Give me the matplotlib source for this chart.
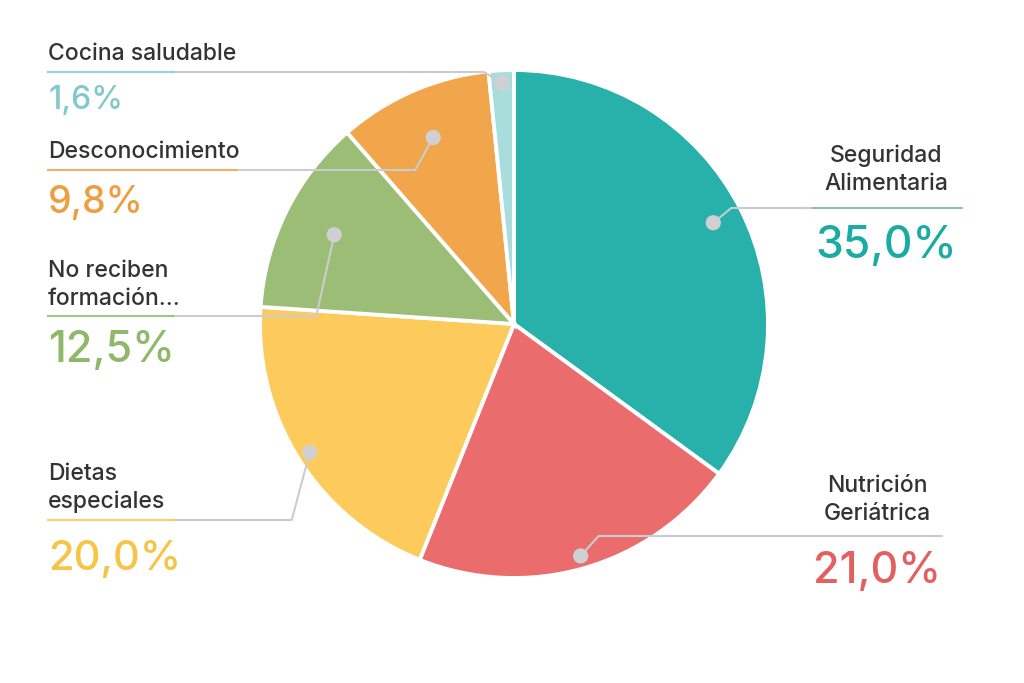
import numpy as np
import matplotlib
matplotlib.use("Agg")
import matplotlib.pyplot as plt

plt.rcParams["font.family"] = ["Inter", "DejaVu Sans"]

# ── data ────────────────────────────────────────────────────────────────
labels = ["Seguridad\nAlimentaria", "Nutrición\nGeriátrica", "Dietas\nespeciales",
          "No reciben\nformación...", "Desconocimiento", "Cocina saludable"]
values = [35.0, 21.0, 20.0, 12.5, 9.8, 1.6]
value_text = ["35,0%", "21,0%", "20,0%", "12,5%", "9,8%", "1,6%"]

# ── style ───────────────────────────────────────────────────────────────
W, H = 1024, 683
wedge_colors = ["#27b1aa", "#ea6c6c", "#fccb5c", "#9bbd76", "#f1a64b", "#a9dcdd"]
value_colors = ["#1aaba3", "#e45f5f", "#f7c546", "#8fb86b", "#ee9e40", "#80caca"]
DARK = "#333333"
GRAY = "#c9ccd0"
DOT = "#d0d0d4"
CX, CY, R = 514, 324, 254          # pixel coords, y downward


def py(y):
    """pixel y (top-down) -> data y"""
    return H - y


# per-slice label layout (pixel coords)
# side, text x, first baseline, line y, value baseline, value size, colored seg, line end, dot radius frac
layout = [
    ("right", 886, 162, 208, 258, 32, (813, 962), 962, 0.88),
    ("right", 877, 492, 536, 583, 31, None, 942, 0.95),
    ("left", 48, 480, 520, 570, 30, (48, 175), None, 0.95),
    ("left", 48, 277, 316, 362, 31, (48, 173), None, 0.79),
    ("left", 48, 158, 170, 213, 27, (48, 236), None, 0.80),
    ("left", 48, 60, 72, 109, 23, (48, 173), None, 0.95),
]
LINE_STEP = 28

fig = plt.figure(figsize=(W / 100, H / 100), dpi=100)
fig.patch.set_facecolor("white")
ax = fig.add_axes([0, 0, 1, 1])
ax.set_xlim(0, W)
ax.set_ylim(0, H)
ax.set_aspect("equal")
ax.axis("off")

wedges, _ = ax.pie(
    values, colors=wedge_colors, startangle=90, counterclock=False,
    center=(CX, py(CY)), radius=R,
    wedgeprops=dict(edgecolor="white", linewidth=2.8),
)
ax.set_xlim(0, W)
ax.set_ylim(0, H)

for i, w in enumerate(wedges):
    side, tx, base_y, line_y, val_y, val_size, seg, line_end, frac = layout[i]
    mid = np.deg2rad((w.theta1 + w.theta2) / 2.0)
    dx = CX + frac * R * np.cos(mid)
    dy = py(CY) + frac * R * np.sin(mid)
    ly = py(line_y)

    ha = "left" if side == "left" else "center"
    for k, line in enumerate(labels[i].split("\n")):
        ax.text(tx, py(base_y + k * LINE_STEP), line, ha=ha, va="baseline",
                fontsize=16.5, fontweight="medium", color=DARK, zorder=5)
    ax.text(tx, py(val_y), value_text[i], ha=ha, va="baseline",
            fontsize=val_size, fontweight="medium", color=value_colors[i], zorder=5)

    if side == "left":
        elbow = dx - 18
        ax.plot([seg[1], elbow, dx], [ly, ly, dy], color=GRAY, lw=1.5,
                solid_capstyle="round", zorder=3)
        ax.plot([seg[0], seg[1]], [ly, ly], color=value_colors[i], lw=1.5,
                alpha=0.8, zorder=4)
    else:
        elbow = dx + 18
        ax.plot([dx, elbow, line_end], [dy, ly, ly], color=GRAY, lw=1.5,
                solid_capstyle="round", zorder=3)
        if seg is not None:
            ax.plot([seg[0], seg[1]], [ly, ly], color=value_colors[i], lw=1.5,
                    alpha=0.35, zorder=4)
    ax.scatter([dx], [dy], s=120, color=DOT, edgecolors="none", zorder=6)

fig.savefig("out.png", dpi=100, facecolor="white")
